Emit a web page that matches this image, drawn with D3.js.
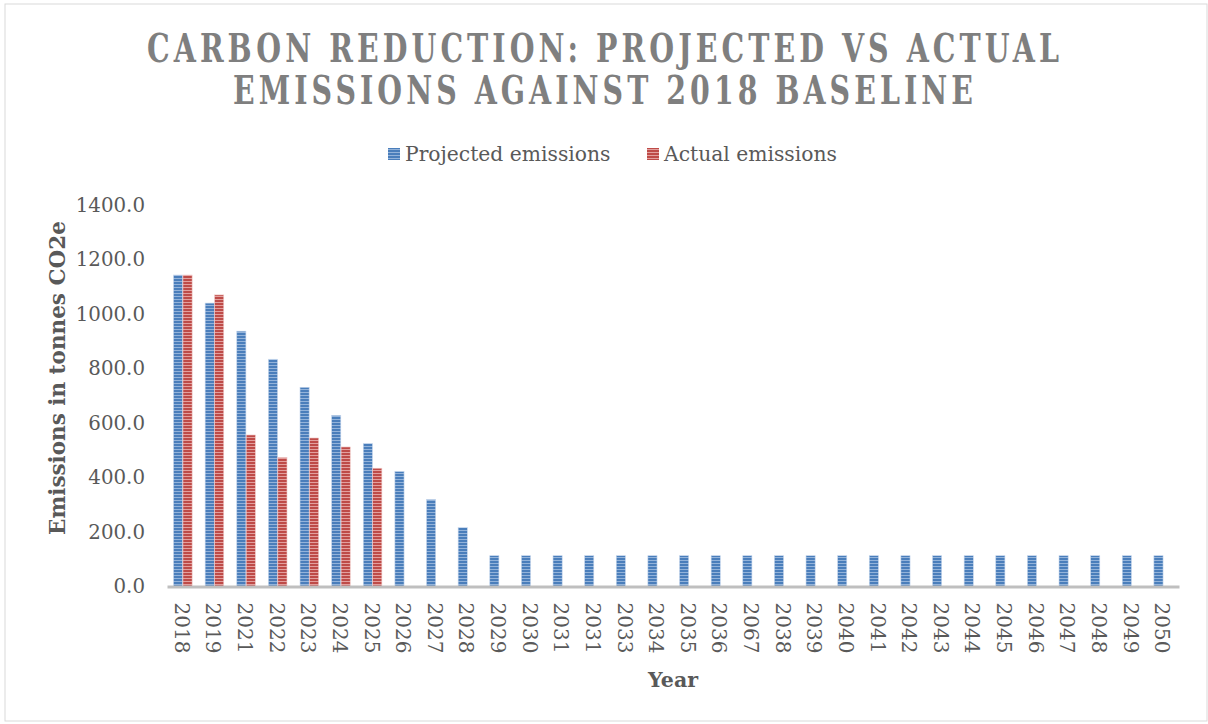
<!DOCTYPE html>
<html>
<head>
<meta charset="utf-8">
<script src="https://cdn.jsdelivr.net/npm/d3@7"></script>
<style>
  body { margin: 0; background: #fff; }
  svg { display: block; }
</style>
</head>
<body>
<script>
const wdth = 1208;
const hght = 724;

// data
const years = ["2018", "2019", "2021", "2022", "2023", "2024", "2025", "2026", "2027", "2028",
  "2029", "2030", "2031", "2031", "2033", "2034", "2035", "2036", "2067", "2038", "2039",
  "2040", "2041", "2042", "2043", "2044", "2045", "2046", "2047", "2048", "2049", "2050"];
const projected = [1143, 1040, 937, 834, 731, 628, 525, 422, 319, 216,
  113, 113, 113, 113, 113, 113, 113, 113, 113, 113, 113,
  113, 113, 113, 113, 113, 113, 113, 113, 113, 113, 113];
const actual = [1143, 1070, 556, 473, 545, 512, 434];
const seriesNames = ["Projected emissions", "Actual emissions"];
const yTicks = [0, 200, 400, 600, 800, 1000, 1200, 1400];

const plotLeft = 167;
const plotRight = 1179;
const plotTop = 205;
const plotBottom = 586.5;

const textColor = "#595959";
const fontFamily = "'DejaVu Serif', serif";

const svg = d3.select("body")
  .append("svg")
  .attr("width", wdth)
  .attr("height", hght);

// stripy fills like the excel bars
const defs = svg.append("defs");
const fills = [
  { id: "stripeBlue", base: "#4a7ebb", line: "#93b3da" },
  { id: "stripeRed", base: "#be4b48", line: "#e3a09e" }
];
fills.forEach(f => {
  const p = defs.append("pattern")
    .attr("id", f.id)
    .attr("patternUnits", "userSpaceOnUse")
    .attr("width", 4)
    .attr("height", 3);
  p.append("rect").attr("width", 4).attr("height", 3).attr("fill", f.base);
  p.append("rect").attr("y", 2).attr("width", 4).attr("height", 1).attr("fill", f.line);
});

svg.append("rect")
  .attr("x", 5)
  .attr("y", 4)
  .attr("width", 1202)
  .attr("height", 717)
  .attr("fill", "white")
  .attr("stroke", "#d9d9d9")
  .attr("stroke-width", 1);

// title, squeezed to the reference width
const titleLines = [
  { text: "CARBON REDUCTION: PROJECTED VS ACTUAL", y: 62, len: 916 },
  { text: "EMISSIONS AGAINST 2018 BASELINE", y: 104, len: 744 }
];
svg.selectAll(".title")
  .data(titleLines)
  .enter()
  .append("text")
  .attr("class", "title")
  .attr("x", 605)
  .attr("y", d => d.y)
  .attr("text-anchor", "middle")
  .attr("textLength", d => d.len)
  .attr("lengthAdjust", "spacingAndGlyphs")
  .style("font-family", "'DejaVu Serif Condensed', 'DejaVu Serif', serif")
  .style("font-weight", "bold")
  .style("font-size", "39px")
  .style("letter-spacing", "5px")
  .attr("fill", "#7f7f7f")
  .text(d => d.text);

const x = d3.scaleBand()
  .domain(d3.range(years.length))
  .range([plotLeft, plotRight])
  .padding(0);

const x1 = d3.scaleBand()
  .domain([0, 1])
  .range([0, x.bandwidth()])
  .paddingInner(0.03)
  .paddingOuter(0.69);

const y = d3.scaleLinear()
  .domain([0, 1400])
  .range([plotBottom, plotTop]);

// y axis labels (no line)
const yAxis = svg.append("g")
  .attr("transform", "translate(" + (plotLeft - 22) + ",0)")
  .call(d3.axisLeft(y).tickValues(yTicks).tickFormat(d3.format(".1f")).tickSize(0).tickPadding(0));
yAxis.select(".domain").remove();
yAxis.selectAll("text")
  .attr("fill", textColor)
  .style("font-family", fontFamily)
  .style("font-size", "19.8px");

// bars
const bars = [];
projected.forEach((v, i) => bars.push({ i: i, s: 0, v: v }));
actual.forEach((v, i) => bars.push({ i: i, s: 1, v: v }));

svg.append("g")
  .selectAll("rect")
  .data(bars)
  .enter()
  .append("rect")
  .attr("x", d => x(d.i) + x1(d.s))
  .attr("y", d => y(d.v))
  .attr("width", x1.bandwidth())
  .attr("height", d => y(0) - y(d.v))
  .attr("fill", d => d.s === 0 ? "url(#stripeBlue)" : "url(#stripeRed)")
  .attr("stroke", d => d.s === 0 ? "#c5d6ec" : "#efc7c6")
  .attr("stroke-width", 0.6);

// x axis
const xAxis = svg.append("g")
  .attr("transform", "translate(0," + plotBottom + ")")
  .call(d3.axisBottom(x).tickFormat(i => years[i]).tickSize(0).tickPadding(0));
xAxis.select(".domain")
  .attr("stroke", "#bfbfbf")
  .attr("stroke-width", 3);
xAxis.selectAll("text")
  .attr("fill", textColor)
  .attr("y", 0)
  .attr("dy", null)
  .attr("text-anchor", "start")
  .attr("dominant-baseline", "central")
  .attr("transform", "translate(-1,16) rotate(90)")
  .style("font-family", fontFamily)
  .style("font-size", "20px");

// axis titles
svg.append("text")
  .attr("transform", "translate(57,378) rotate(-90)")
  .attr("text-anchor", "middle")
  .attr("dominant-baseline", "central")
  .attr("fill", textColor)
  .style("font-family", fontFamily)
  .style("font-weight", "bold")
  .style("font-size", "21.5px")
  .text("Emissions in tonnes CO2e");

svg.append("text")
  .attr("x", 673)
  .attr("y", 687)
  .attr("text-anchor", "middle")
  .attr("fill", textColor)
  .style("font-family", fontFamily)
  .style("font-weight", "bold")
  .style("font-size", "20.5px")
  .text("Year");

// legend
const legendData = [
  { name: seriesNames[0], fill: "url(#stripeBlue)", x: 388 },
  { name: seriesNames[1], fill: "url(#stripeRed)", x: 647 }
];
const legend = svg.append("g").attr("id", "legend");
legend.selectAll("rect")
  .data(legendData)
  .enter()
  .append("rect")
  .attr("x", d => d.x)
  .attr("y", 148)
  .attr("width", 12)
  .attr("height", 12)
  .attr("fill", d => d.fill);
legend.selectAll("text")
  .data(legendData)
  .enter()
  .append("text")
  .attr("x", d => d.x + 17)
  .attr("y", 161)
  .attr("fill", textColor)
  .style("font-family", fontFamily)
  .style("font-size", "20.3px")
  .text(d => d.name);
</script>
</body>
</html>
